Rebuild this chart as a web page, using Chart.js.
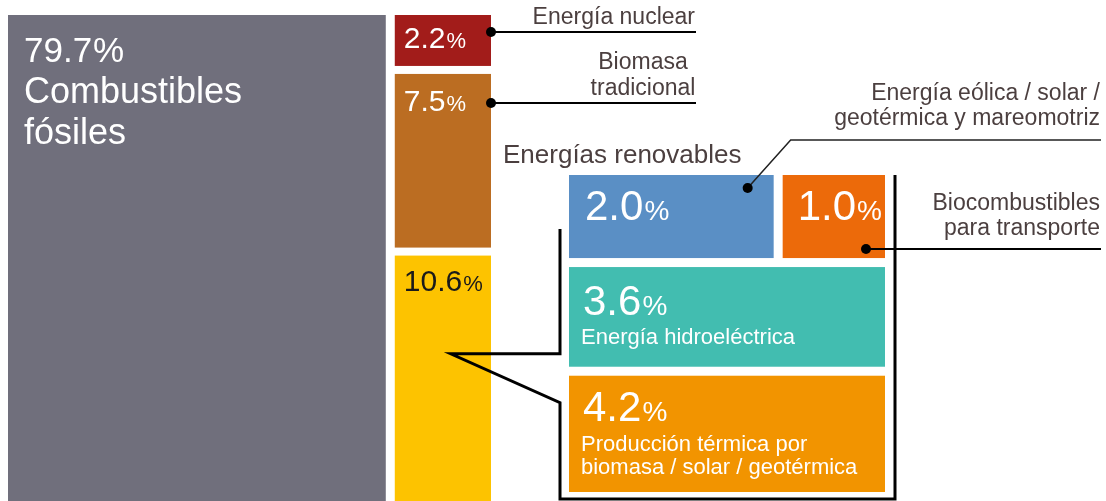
<!DOCTYPE html>
<html>
<head>
<meta charset="utf-8">
<script src="https://cdn.jsdelivr.net/npm/chart.js@4.4.1/dist/chart.umd.min.js"></script>
<style>
  html, body { margin: 0; padding: 0; background: #ffffff; }
  #chart { display: block; }
</style>
</head>
<body>
<canvas id="chart" width="1106" height="501"></canvas>
<script>
// total energy mix (% of final consumption)
const mainLabels = ["Combustibles fósiles", "Energía nuclear", "Biomasa tradicional", "Energías renovables"];
const mainValues = [79.7, 2.2, 7.5, 10.6];
const mainColors = ["#706f7c", "#a21c1a", "#bb6d22", "#fdc300"];

// breakdown of the renewables block
const renewLabels = [
  ["Energía eólica / solar /", "geotérmica y mareomotriz"],
  ["Biocombustibles", "para transporte"],
  ["Energía hidroeléctrica"],
  ["Producción térmica por", "biomasa / solar / geotérmica"]
];
const renewValues = [2.0, 1.0, 3.6, 4.2];
const renewColors = ["#5a8fc5", "#ec6a0a", "#42bdb0", "#f29400"];
const renewRows = [[0, 1], [2], [3]];

const FONT = "'Liberation Sans', Arial, sans-serif";
const TEXT_COLOR = "#4b3f3f";

// boxes in scale units (the scales span the canvas)
const MAIN_BOX = { x0: 8, y0: 15, x1: 491, y1: 501 };
const PANEL_BOX = { x0: 569, y0: 175, x1: 885, y1: 492 };
const MAIN_GAP_X = 9;
const MAIN_GAP_Y = 8;
const PANEL_GAP_X = 9;
const PANEL_GAP_Y = 9;

function sum(arr) {
  return arr.reduce((s, v) => s + v, 0);
}

function layoutMain() {
  const total = sum(mainValues);
  const width = MAIN_BOX.x1 - MAIN_BOX.x0 - MAIN_GAP_X;
  const fossilW = width * mainValues[0] / total;
  const rects = [{ x0: MAIN_BOX.x0, y0: MAIN_BOX.y0, x1: MAIN_BOX.x0 + fossilW, y1: MAIN_BOX.y1 }];

  const rest = mainValues.slice(1);
  const height = MAIN_BOX.y1 - MAIN_BOX.y0 - MAIN_GAP_Y * (rest.length - 1);
  let y = MAIN_BOX.y0;
  rest.forEach(v => {
    const h = height * v / sum(rest);
    rects.push({ x0: MAIN_BOX.x0 + fossilW + MAIN_GAP_X, y0: y, x1: MAIN_BOX.x1, y1: y + h });
    y += h + MAIN_GAP_Y;
  });
  return rects;
}

function layoutPanel() {
  const rects = [];
  const height = PANEL_BOX.y1 - PANEL_BOX.y0 - PANEL_GAP_Y * (renewRows.length - 1);
  let y = PANEL_BOX.y0;
  renewRows.forEach(row => {
    const rowSum = sum(row.map(i => renewValues[i]));
    const h = height * rowSum / sum(renewValues);
    const width = PANEL_BOX.x1 - PANEL_BOX.x0 - PANEL_GAP_X * (row.length - 1);
    let x = PANEL_BOX.x0;
    row.forEach(i => {
      const w = width * renewValues[i] / rowSum;
      rects[i] = { x0: x, y0: y, x1: x + w, y1: y + h };
      x += w + PANEL_GAP_X;
    });
    y += h + PANEL_GAP_Y;
  });
  return rects;
}

function drawValue(ctx, x, y, value, bigSize, pctSize, color) {
  const num = value.toFixed(1);
  ctx.fillStyle = color;
  ctx.textAlign = "left";
  ctx.textBaseline = "alphabetic";
  ctx.font = `${bigSize}px ${FONT}`;
  ctx.fillText(num, x, y);
  const w = ctx.measureText(num).width;
  ctx.font = `${pctSize}px ${FONT}`;
  ctx.fillText("%", x + w + 1, y);
}

function drawText(ctx, text, x, y, size, color, align) {
  ctx.fillStyle = color;
  ctx.font = `${size}px ${FONT}`;
  ctx.textAlign = align || "left";
  ctx.textBaseline = "alphabetic";
  ctx.fillText(text, x, y);
}

function drawLine(ctx, pts, width, color) {
  ctx.beginPath();
  ctx.moveTo(pts[0][0], pts[0][1]);
  pts.slice(1).forEach(p => ctx.lineTo(p[0], p[1]));
  ctx.lineWidth = width;
  ctx.strokeStyle = color || "#000";
  ctx.lineJoin = "miter";
  ctx.stroke();
}

function drawDot(ctx, x, y) {
  ctx.beginPath();
  ctx.arc(x, y, 5, 0, Math.PI * 2);
  ctx.fillStyle = "#000";
  ctx.fill();
}

const treemapPlugin = {
  id: "treemap",
  afterDatasetsDraw(chart) {
    const ctx = chart.ctx;
    const sx = v => chart.scales.x.getPixelForValue(v);
    const sy = v => chart.scales.y.getPixelForValue(v);
    const toPx = r => ({ x0: sx(r.x0), y0: sy(r.y0), x1: sx(r.x1), y1: sy(r.y1) });

    const main = layoutMain().map(toPx);
    const panel = layoutPanel().map(toPx);

    ctx.save();

    main.forEach((r, i) => {
      ctx.fillStyle = mainColors[i];
      ctx.fillRect(r.x0, r.y0, r.x1 - r.x0, r.y1 - r.y0);
    });
    panel.forEach((r, i) => {
      ctx.fillStyle = renewColors[i];
      ctx.fillRect(r.x0, r.y0, r.x1 - r.x0, r.y1 - r.y0);
    });

    // bracket linking the renewables block to its breakdown
    const ren = main[3];
    const tipX = ren.x0 + 56;
    const tipY = ren.y0 + (ren.y1 - ren.y0) * 0.4;
    const bl = panel[0].x0 - 9;
    const br = panel[1].x1 + 10;
    const bb = panel[3].y1 + 7;
    drawLine(ctx, [[bl, panel[0].y0 + 54], [bl, tipY], [tipX, tipY], [bl, tipY + 49], [bl, bb], [br, bb], [br, panel[1].y0]], 3);

    // fossil label
    const f = main[0];
    const fossilWords = mainLabels[0].split(" ");
    drawValue(ctx, f.x0 + 16, f.y0 + 47, mainValues[0], 35, 35, "#fff");
    drawText(ctx, fossilWords[0], f.x0 + 16, f.y0 + 88, 36, "#fff");
    drawText(ctx, fossilWords[1], f.x0 + 16, f.y0 + 129, 36, "#fff");

    // column labels
    drawValue(ctx, main[1].x0 + 9, main[1].y0 + 33, mainValues[1], 30, 22, "#fff");
    drawValue(ctx, main[2].x0 + 9, main[2].y0 + 37, mainValues[2], 30, 22, "#fff");
    drawValue(ctx, main[3].x0 + 9, main[3].y0 + 35, mainValues[3], 30, 22, "#1a1a1a");

    // nuclear leader
    const nY = main[1].y0 + 17;
    drawLine(ctx, [[main[1].x1, nY], [696, nY]], 2);
    drawDot(ctx, main[1].x1, nY);
    drawText(ctx, mainLabels[1], 695, nY - 8, 23, TEXT_COLOR, "right");

    // traditional biomass leader
    const bY = main[2].y0 + 29;
    const bioWords = mainLabels[2].split(" ");
    drawLine(ctx, [[main[2].x1, bY], [696, bY]], 2);
    drawDot(ctx, main[2].x1, bY);
    drawText(ctx, bioWords[0], 643, bY - 34, 23, TEXT_COLOR, "center");
    drawText(ctx, bioWords[1], 643, bY - 8, 23, TEXT_COLOR, "center");

    drawText(ctx, mainLabels[3], panel[0].x0 - 66, panel[0].y0 - 12, 26, TEXT_COLOR);

    // panel labels
    drawValue(ctx, panel[0].x0 + 16, panel[0].y0 + 45, renewValues[0], 42, 28, "#fff");
    drawValue(ctx, panel[1].x0 + 15, panel[1].y0 + 45, renewValues[1], 42, 28, "#fff");
    drawValue(ctx, panel[2].x0 + 14, panel[2].y0 + 48, renewValues[2], 42, 28, "#fff");
    drawText(ctx, renewLabels[2][0], panel[2].x0 + 12, panel[2].y0 + 77, 22, "#fff");
    drawValue(ctx, panel[3].x0 + 14, panel[3].y0 + 45, renewValues[3], 42, 28, "#fff");
    drawText(ctx, renewLabels[3][0], panel[3].x0 + 12, panel[3].y0 + 75, 22, "#fff");
    drawText(ctx, renewLabels[3][1], panel[3].x0 + 12, panel[3].y0 + 98, 22, "#fff");

    // wind / solar leader
    const eX = panel[0].x1 - 26;
    const eY = panel[0].y0 + 13;
    drawLine(ctx, [[eX, eY], [eX + 43, eY - 48], [1101, eY - 48]], 1.5, "#222");
    drawDot(ctx, eX, eY);
    drawText(ctx, renewLabels[0][0], 1100, eY - 88, 23, TEXT_COLOR, "right");
    drawText(ctx, renewLabels[0][1], 1100, eY - 63, 23, TEXT_COLOR, "right");

    // biofuels leader
    const tX = panel[1].x1 - 19;
    const tY = panel[1].y0 + 74;
    drawLine(ctx, [[tX, tY], [1101, tY]], 2);
    drawDot(ctx, tX, tY);
    drawText(ctx, renewLabels[1][0], 1100, tY - 39, 23, TEXT_COLOR, "right");
    drawText(ctx, renewLabels[1][1], 1100, tY - 14, 23, TEXT_COLOR, "right");

    ctx.restore();
  }
};

new Chart(document.getElementById("chart"), {
  type: "scatter",
  data: { datasets: [{ data: [] }] },
  options: {
    responsive: false,
    animation: false,
    layout: { padding: 0 },
    plugins: {
      legend: { display: false },
      tooltip: { enabled: false }
    },
    scales: {
      x: { type: "linear", min: 0, max: 1106, display: false },
      y: { type: "linear", min: 0, max: 501, reverse: true, display: false }
    }
  },
  plugins: [treemapPlugin]
});
</script>
</body>
</html>
